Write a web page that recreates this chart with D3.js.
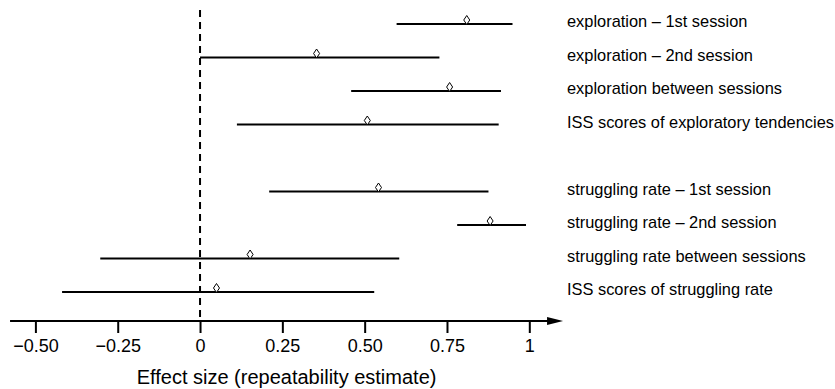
<!DOCTYPE html>
<html>
<head>
<meta charset="utf-8">
<script src="https://cdn.jsdelivr.net/npm/d3@7"></script>
<style>
  html, body { margin: 0; padding: 0; background: #fff; }
  svg { display: block; font-family: "Liberation Sans", Arial, sans-serif; }
</style>
</head>
<body>
<svg id="chart" width="835" height="389"></svg>
<script>
// ---- data ----
const labels = [
  "exploration \u2013 1st session",
  "exploration \u2013 2nd session",
  "exploration between sessions",
  "ISS scores of exploratory tendencies",
  "struggling rate \u2013 1st session",
  "struggling rate \u2013 2nd session",
  "struggling rate between sessions",
  "ISS scores of struggling rate"
];
const rowIndex = [0, 1, 2, 3, 5, 6, 7, 8];
const estimates = [0.81, 0.354, 0.758, 0.508, 0.542, 0.881, 0.152, 0.050];
const lower     = [0.597, 0.0, 0.459, 0.112, 0.210, 0.781, -0.303, -0.419];
const upper     = [0.949, 0.727, 0.914, 0.907, 0.876, 0.990, 0.605, 0.529];
const tickValues = [-0.5, -0.25, 0, 0.25, 0.5, 0.75, 1];
const tickLabels = ["\u22120.50", "\u22120.25", "0", "0.25", "0.50", "0.75", "1"];
const axisTitle = "Effect size (repeatability estimate)";

// ---- layout ----
const svg = d3.select("#chart");
const x = d3.scaleLinear().domain([-0.5, 1]).range([35.4, 529.3]);
const y = d3.scaleLinear().domain([0, 8]).range([24, 292]);
const axisY = 321;
const axisStart = -0.577, axisEnd = 1.057; // arrow base
const arrowLen = 15, arrowHalf = 4;

// dashed zero line
svg.append("line")
  .attr("x1", x(0)).attr("x2", x(0))
  .attr("y1", 10).attr("y2", axisY)
  .attr("stroke", "#000").attr("stroke-width", 2)
  .attr("stroke-dasharray", "7,5");

// axis
const axis = d3.axisBottom(x)
  .tickValues(tickValues)
  .tickFormat((d, i) => tickLabels[i])
  .tickSize(12)
  .tickSizeOuter(0)
  .tickPadding(6);
const gAxis = svg.append("g").attr("transform", `translate(0,${axisY})`).call(axis);
gAxis.select(".domain").remove();
gAxis.selectAll(".tick line").attr("stroke", "#000").attr("stroke-width", 2);
gAxis.selectAll(".tick text").attr("fill", "#000").style("font-size", "18px")
  .style("font-family", "'Liberation Sans', Arial, sans-serif");

svg.append("line")
  .attr("x1", x(axisStart)).attr("x2", x(axisEnd))
  .attr("y1", axisY).attr("y2", axisY)
  .attr("stroke", "#000").attr("stroke-width", 2);
svg.append("path")
  .attr("d", `M${x(axisEnd) - 1},${axisY - arrowHalf}L${x(axisEnd) + arrowLen},${axisY}L${x(axisEnd) - 1},${axisY + arrowHalf}Z`)
  .attr("fill", "#000");

svg.append("text")
  .attr("x", (x(axisStart) + x(axisEnd) + arrowLen) / 2)
  .attr("y", 384)
  .attr("text-anchor", "middle")
  .style("font-size", "20px")
  .text(axisTitle);

// intervals
const rows = labels.map((l, i) => ({ label: l, r: rowIndex[i], est: estimates[i], lo: lower[i], hi: upper[i] }));
svg.append("g").selectAll("line").data(rows).join("line")
  .attr("x1", d => x(d.lo)).attr("x2", d => x(d.hi))
  .attr("y1", d => y(d.r)).attr("y2", d => y(d.r))
  .attr("stroke", "#000").attr("stroke-width", 2);

// diamonds
svg.append("g").selectAll("path").data(rows).join("path")
  .attr("d", d => {
    const cx = x(d.est), cy = y(d.r) - 4;
    return `M${cx},${cy - 4.5}L${cx + 3},${cy}L${cx},${cy + 4.5}L${cx - 3},${cy}Z`;
  })
  .attr("fill", "#fff").attr("stroke", "#000").attr("stroke-width", 1);

// labels
svg.append("g").selectAll("text").data(rows).join("text")
  .attr("x", 567)
  .attr("y", d => y(d.r) + 3)
  .style("font-size", "16.4px")
  .attr("fill", "#000")
  .text(d => d.label);
</script>
</body>
</html>
